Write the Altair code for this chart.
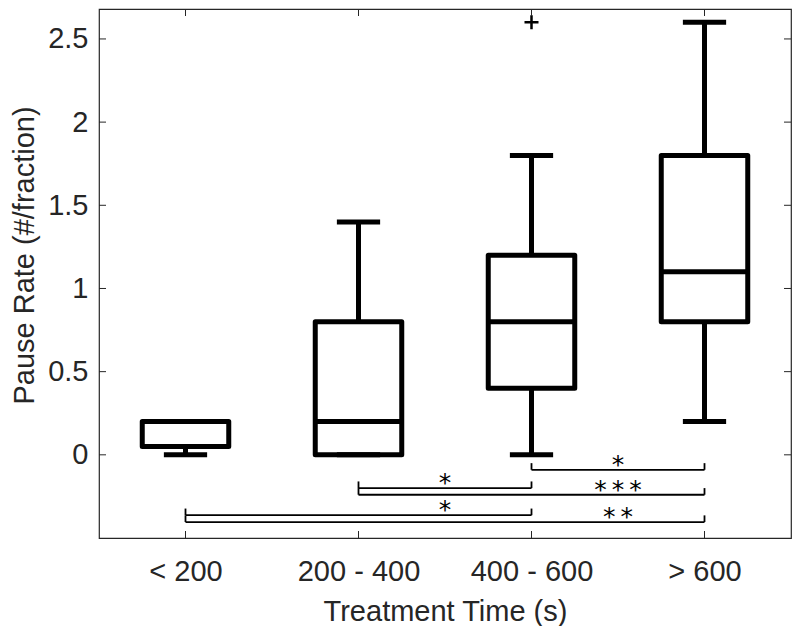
import json
import altair as alt
import pandas as pd

# ---------------- data ----------------
categories = ["< 200", "200 - 400", "400 - 600", "> 600"]
whisker_low = [0.0, 0.0, 0.0, 0.2]
quartile_1 = [0.05, 0.0, 0.4, 0.8]
medians = [0.2, 0.2, 0.8, 1.1]
quartile_3 = [0.2, 0.8, 1.2, 1.8]
whisker_high = [0.2, 1.4, 1.8, 2.6]

outlier_group = ["400 - 600"]
outlier_value = [2.6]

sig_from = ["400 - 600", "200 - 400", "200 - 400", "< 200", "< 200"]
sig_to = ["> 600", "400 - 600", "> 600", "400 - 600", "> 600"]
sig_level = [-0.09, -0.20, -0.24, -0.363, -0.404]
sig_label = ["*", "*", "***", "*", "**"]

y_ticks = [0, 0.5, 1, 1.5, 2, 2.5]

# ---------------- tables ----------------
pos = {c: i + 1 for i, c in enumerate(categories)}
boxes = pd.DataFrame({
    "cat": categories,
    "pos": [pos[c] for c in categories],
    "lo": whisker_low, "q1": quartile_1, "med": medians,
    "q3": quartile_3, "hi": whisker_high,
})
outliers = pd.DataFrame({"pos": [pos[c] for c in outlier_group], "v": outlier_value})
sig = pd.DataFrame({
    "a": [pos[c] for c in sig_from],
    "b": [pos[c] for c in sig_to],
    "lvl": sig_level,
    "txt": ["\u2009".join(s) for s in sig_label],
})
yt = pd.DataFrame({"v": y_ticks})
xt = pd.DataFrame({"pos": list(range(1, len(categories) + 1))})

W, H = 692, 529
INK = "#262626"
FONT = "Liberation Sans"
LW = 5

xscale = alt.Scale(domain=[0.5, 4.5], nice=False, zero=False)
yscale = alt.Scale(domain=[-0.5, 2.68], nice=False, zero=False)
XT = "Treatment Time (s)"
YT = "Pause Rate (#/fraction)"

xaxis = alt.Axis(
    values=[1, 2, 3, 4],
    labelExpr=f"{json.dumps(categories)}[datum.value - 1]",
    labelFontSize=29, labelFont=FONT, labelColor=INK, labelPadding=19,
    ticks=False, domain=False, grid=False,
    title=XT, titleFontSize=29, titleFont=FONT, titleColor=INK,
    titleFontWeight="normal", titleY=82, titleBaseline="alphabetic",
)
yaxis = alt.Axis(
    values=y_ticks, format="~g",
    labelFontSize=29, labelFont=FONT, labelColor=INK, labelPadding=11,
    ticks=False, domain=False, grid=False,
    title=YT, titleFontSize=29, titleFont=FONT, titleColor=INK,
    titleFontWeight="normal", titleAngle=-90, titleX=-66, titleY=246,
    titleAlign="center", titleBaseline="alphabetic",
)


def X(field):
    return alt.X(field, scale=xscale, axis=xaxis, title=XT)


def Y(field):
    return alt.Y(field, scale=yscale, axis=yaxis, title=YT)


base = alt.Chart(boxes)

box = base.mark_rect(fillOpacity=0, stroke="black", strokeWidth=LW, strokeJoin="round").transform_calculate(
    xl="datum.pos - 0.25", xr="datum.pos + 0.25"
).encode(x=X("xl:Q"), x2="xr:Q", y=Y("q1:Q"), y2="q3:Q")

median = base.mark_rule(color="black", strokeWidth=LW).transform_calculate(
    xl="datum.pos - 0.25", xr="datum.pos + 0.25"
).encode(x=X("xl:Q"), x2="xr:Q", y=Y("med:Q"))

whisk_up = base.mark_rule(color="black", strokeWidth=LW).encode(x=X("pos:Q"), y=Y("q3:Q"), y2="hi:Q")
whisk_dn = base.mark_rule(color="black", strokeWidth=LW).encode(x=X("pos:Q"), y=Y("lo:Q"), y2="q1:Q")
cap_hi = base.mark_rule(color="black", strokeWidth=LW).transform_calculate(
    xl="datum.pos - 0.125", xr="datum.pos + 0.125"
).encode(x=X("xl:Q"), x2="xr:Q", y=Y("hi:Q"))
cap_lo = base.mark_rule(color="black", strokeWidth=LW).transform_calculate(
    xl="datum.pos - 0.125", xr="datum.pos + 0.125"
).encode(x=X("xl:Q"), x2="xr:Q", y=Y("lo:Q"))

outl = alt.Chart(outliers).mark_point(
    shape="M-1,0L1,0M0,-1L0,1", filled=False, stroke="black", strokeWidth=2.5, size=196, opacity=1
).encode(x=X("pos:Q"), y=Y("v:Q"))

sb = alt.Chart(sig)
sig_line = sb.mark_rule(color="black", strokeWidth=1.8).encode(x=X("a:Q"), x2="b:Q", y=Y("lvl:Q"))
sig_l = sb.mark_rule(color="black", strokeWidth=1.8).transform_calculate(
    top="datum.lvl + 0.04").encode(x=X("a:Q"), y=Y("lvl:Q"), y2="top:Q")
sig_r = sb.mark_rule(color="black", strokeWidth=1.8).transform_calculate(
    top="datum.lvl + 0.04").encode(x=X("b:Q"), y=Y("lvl:Q"), y2="top:Q")
sig_txt = sb.mark_text(
    font="DejaVu Sans", fontSize=25, color="black", baseline="alphabetic", align="center", dy=3
).transform_calculate(mx="datum.b - 0.5").encode(x=X("mx:Q"), y=Y("lvl:Q"), text="txt:N")

# inward ticks on all four sides
tick_l = alt.Chart(yt).mark_rule(color=INK, strokeWidth=1).encode(
    y=Y("v:Q"), x=alt.value(0), x2=alt.value(7))
tick_r = alt.Chart(yt).mark_rule(color=INK, strokeWidth=1).encode(
    y=Y("v:Q"), x=alt.value(W), x2=alt.value(W - 7))
tick_b = alt.Chart(xt).mark_rule(color=INK, strokeWidth=1).encode(
    x=X("pos:Q"), y=alt.value(H), y2=alt.value(H - 7))
tick_t = alt.Chart(xt).mark_rule(color=INK, strokeWidth=1).encode(
    x=X("pos:Q"), y=alt.value(0), y2=alt.value(7))

chart = alt.layer(
    box, median, whisk_up, whisk_dn, cap_hi, cap_lo, outl,
    sig_line, sig_l, sig_r, sig_txt,
    tick_l, tick_r, tick_b, tick_t,
).properties(
    width=W, height=H, padding={"left": 2, "top": 0, "right": 0, "bottom": 0},
    background="white",
).configure_view(stroke=INK, strokeWidth=1.2)

chart.save("out.html", embed_options={"renderer": "svg", "actions": False})
